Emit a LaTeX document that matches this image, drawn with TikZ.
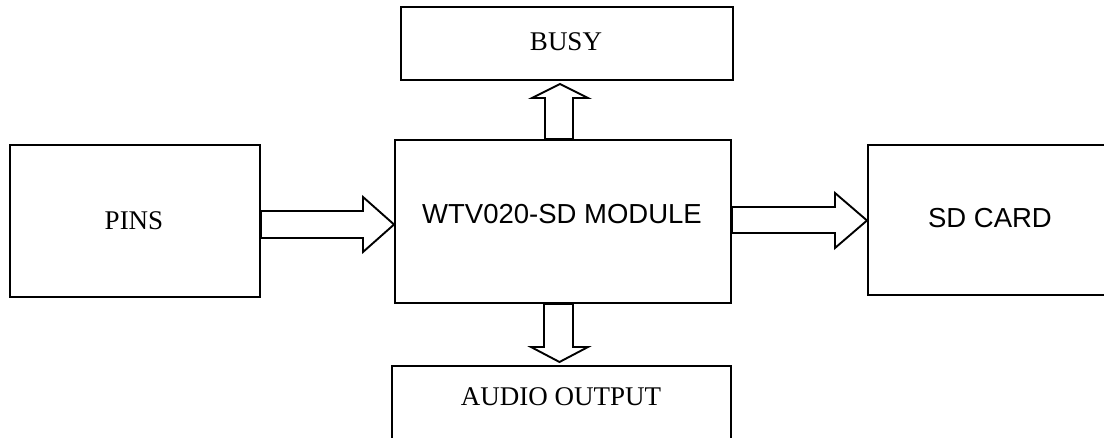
\documentclass[tikz,border=0pt]{standalone}
\usepackage{fontspec}
\usetikzlibrary{calc}
\setmainfont{Liberation Serif}
\setsansfont{Liberation Sans}
\begin{document}
\begin{tikzpicture}[x=1pt,y=-1pt,
  box/.style={draw=black,line width=1.9pt,rectangle,inner sep=0pt},
  serlbl/.style={inner sep=0pt,font=\fontsize{27}{30}\selectfont\rmfamily},
  sanlbl/.style={inner sep=0pt,font=\fontsize{27.5}{30}\selectfont\sffamily},
  blk/.style={draw=black,fill=white,line width=1.9pt,line join=miter}]
\useasboundingbox (0,0) rectangle (1104,438);
\clip (0,0) rectangle (1104,438);
% boxes
\node[box,minimum width=332pt,minimum height=73pt] (busy) at (567,43.5) {};
\node[box,minimum width=336pt,minimum height=163pt] (main) at (563,221.5) {};
\node[box,minimum width=250pt,minimum height=152pt] (pins) at (135,221) {};
\node[box,minimum width=260pt,minimum height=150pt,anchor=west] (sd) at (867,220) {};
\node[box,minimum width=339pt,minimum height=120pt,anchor=north] (audio) at (561.5,365) {};
% labels
\node[serlbl] (busylbl) at (566,42) {BUSY};
\node[sanlbl] (mainlbl) at (562,214) {WTV020-SD MODULE};
\node[serlbl] (pinslbl) at (134,220.5) {PINS};
\node[sanlbl] (sdlbl) at (990,218.5) {SD CARD};
\node[serlbl] (audiolbl) at (561,397) {AUDIO OUTPUT};
% block arrows
\draw[blk] (pins.east |- 0,211) -- (363,211) -- (363,197) -- (main.west |- 0,224.5)
  -- (363,252) -- (363,238) -- (pins.east |- 0,238) -- cycle;
\draw[blk] (main.east |- 0,207) -- (835,207) -- (835,193) -- (sd.west |- 0,220.5)
  -- (835,248) -- (835,233) -- (main.east |- 0,233) -- cycle;
\draw[blk] (545,0 |- main.north) -- (545,98) -- (532,98) -- ($(560,0 |- busy.south)+(0,3)$)
  -- (588,98) -- (573,98) -- (573,0 |- main.north) -- cycle;
\draw[blk] (544,0 |- main.south) -- (544,347) -- (531,347) -- ($(559.5,0 |- audio.north)+(0,-3)$)
  -- (588,347) -- (573,347) -- (573,0 |- main.south) -- cycle;
\end{tikzpicture}
\end{document}
